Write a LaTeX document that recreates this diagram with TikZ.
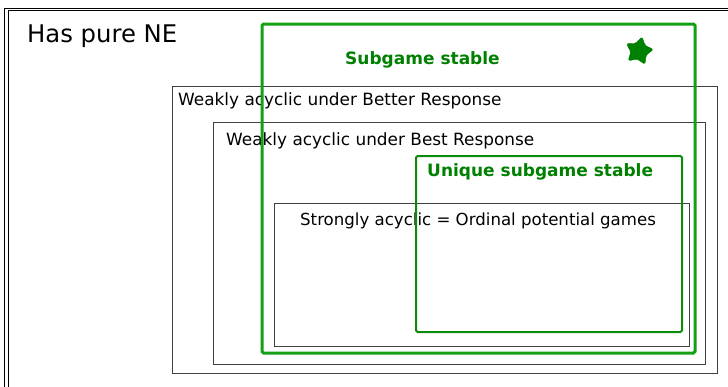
\documentclass[tikz,border=0pt]{standalone}
\usepackage{fontspec}
\setmainfont{DejaVu Sans}
\usetikzlibrary{positioning,shapes.geometric}

\definecolor{sgframe}{RGB}{20,160,20}
\definecolor{sgtext}{RGB}{0,128,0}
\definecolor{usframe}{RGB}{10,140,10}

\tikzset{
  setbox/.style={rectangle, draw=black!75, line width=1pt, anchor=north west, inner sep=0pt, outer sep=0pt},
  stabbox/.style={rectangle, draw=sgframe, line width=3pt, rounded corners=1.5pt, anchor=north west, inner sep=0pt, outer sep=0pt},
  setlbl/.style={anchor=base west, inner sep=0pt, font=\fontsize{16.9}{19}\selectfont},
  stablbl/.style={anchor=base west, inner sep=0pt, text=sgtext, font=\fontsize{17}{20}\selectfont\bfseries}
}

\begin{document}
\begin{tikzpicture}[x=1pt, y=-1pt]
\useasboundingbox (0,0) rectangle (728,386);
\clip (0,0) rectangle (728,386);

% has pure NE (double frame, runs off the page)
\node (neout) [setbox, draw=black, minimum width=760pt, minimum height=420pt] at (4.5,8) {};
\node (nein) [setbox, draw=black, line width=0.8pt, minimum width=760pt, minimum height=420pt] at (8,10) {};
\node (nelbl) [anchor=base west, inner sep=0pt, font=\fontsize{24.3}{28}\selectfont] at ([shift={(22.5,34)}]neout.north west) {Has pure NE};

% weakly acyclic sets
\node (better) [setbox, minimum width=545pt, minimum height=287pt] at (172,86) {};
\node (betterlbl) [setlbl] at ([shift={(6,19)}]better.north west) {Weakly acyclic under Better Response};

\node (best) [setbox, minimum width=492pt, minimum height=242pt] at (213,122) {};
\node (bestlbl) [setlbl] at ([shift={(13,23)}]best.north west) {Weakly acyclic under Best Response};

\node (strong) [setbox, minimum width=415pt, minimum height=143pt] at (274,203) {};
\node (stronglbl) [setlbl, font=\fontsize{16.6}{19}\selectfont] at ([shift={(26,22)}]strong.north west) {Strongly acyclic = Ordinal potential games};

% subgame stable sets
\node (subgame) [stabbox, minimum width=433pt, minimum height=329pt] at (262,24) {};
\node (subgamelbl) [stablbl] at ([shift={(83,40)}]subgame.north west) {Subgame stable};
\node (star) [star, star points=5, star point ratio=1.75, minimum size=29pt, inner sep=0pt, fill=sgtext, draw=sgtext, rounded corners=1.5pt, rotate=-12] at (639,51) {};

\node (unique) [stabbox, draw=usframe, line width=2pt, minimum width=266pt, minimum height=176pt] at (416,156) {};
\node (uniquelbl) [stablbl] at ([shift={(11,20)}]unique.north west) {Unique subgame stable};

\end{tikzpicture}
\end{document}
